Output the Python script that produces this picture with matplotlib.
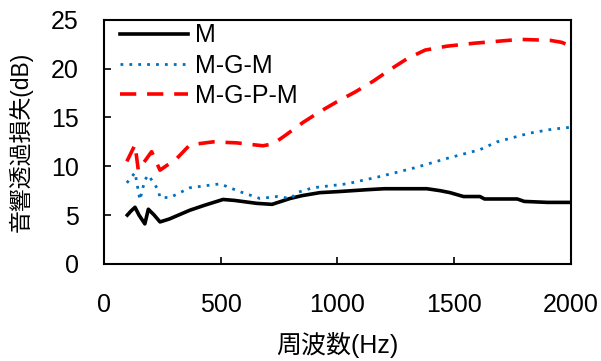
import matplotlib
matplotlib.use("Agg")
import matplotlib.pyplot as plt
import numpy as np

plt.rcParams['font.family'] = ['Liberation Sans', 'Noto Sans CJK JP', 'DejaVu Sans']

# M
freq_m = [100, 115, 133, 150, 175, 190, 215, 240, 280, 368, 430, 510, 560, 655, 720, 797,
          850, 925, 1000, 1126, 1200, 1300, 1383, 1440, 1482, 1540, 1610, 1630, 1770, 1800, 1900, 2000]
tl_m = [5.0, 5.4, 5.8, 5.0, 4.1, 5.6, 5.0, 4.3, 4.6, 5.5, 6.0, 6.6, 6.5, 6.2, 6.1, 6.7,
        7.0, 7.3, 7.4, 7.6, 7.7, 7.7, 7.7, 7.5, 7.3, 6.9, 6.9, 6.65, 6.65, 6.4, 6.3, 6.3]

# M-G-M
freq_mgm = [98, 133, 154, 175, 190, 232, 240, 283, 368, 497, 582, 668, 741, 800, 826, 895, 1040,
            1182, 1324, 1468, 1610, 1683, 1824, 1920, 2000]
tl_mgm = [8.3, 9.35, 6.55, 8.6, 9.1, 7.6, 6.8, 6.8, 7.8, 8.2, 7.4, 6.7, 6.9, 6.7, 7.3, 7.8, 8.2,
          8.95, 9.8, 10.8, 11.7, 12.5, 13.4, 13.8, 14.0]

# M-G-P-M
freq_mgpm = [98, 133, 147, 168, 204, 240, 312, 368, 467, 568, 681, 724, 767, 853, 925, 997, 1075,
             1152, 1225, 1297, 1375, 1468, 1582, 1683, 1782, 1910, 1960, 2000]
tl_mgpm = [10.5, 12.2, 9.6, 10.3, 11.5, 9.6, 10.8, 12.2, 12.5, 12.4, 12.1, 12.3, 13.0, 14.5, 15.6,
           16.6, 17.6, 18.7, 19.9, 21.0, 21.9, 22.3, 22.6, 22.8, 23.0, 22.9, 22.7, 22.3]

fig = plt.figure(figsize=(6.01, 3.61), dpi=100)
ax = fig.add_axes([0.173, 0.269, 0.777, 0.676])

ax.plot(freq_m, tl_m, color='black', lw=2.6, label='M')
ax.plot(freq_mgm, tl_mgm, color='#0070C0', lw=2.0, ls=(0, (1, 2.2)), label='M-G-M')
ax.plot(freq_mgpm, tl_mgpm, color='#FF0000', lw=2.6, ls=(0, (4.5, 3)), label='M-G-P-M')

ax.set_xlim(0, 2000)
ax.set_ylim(0, 25)
ax.set_xticks([0, 500, 1000, 1500, 2000])
ax.set_yticks([0, 5, 10, 15, 20, 25])
ax.tick_params(direction='in', labelsize=18, length=5, width=1.2)
ax.tick_params(axis='y', pad=18)
ax.tick_params(axis='x', pad=21)
for s in ax.spines.values():
    s.set_linewidth(1.5)

ax.set_xlabel('周波数(Hz)', fontsize=18, labelpad=11)
ax.set_ylabel('音響透過損失(dB)', fontsize=16.5)
ax.yaxis.set_label_coords(-0.152, 0.50)

ax.legend(loc='upper left', bbox_to_anchor=(0.024, 1.006), frameon=False, fontsize=18,
          handlelength=2.7, borderaxespad=0, borderpad=0.2, labelspacing=0.25,
          handletextpad=0.3)

fig.savefig('out.png', dpi=100)
